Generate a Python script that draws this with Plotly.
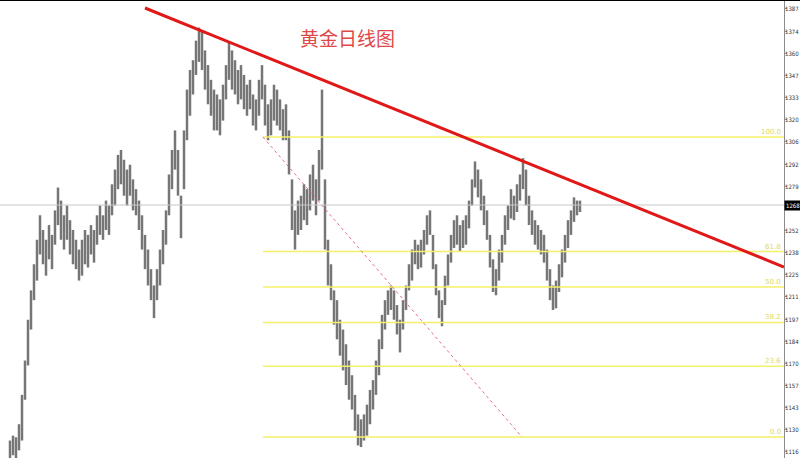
import plotly.graph_objects as go

# ---- data ----
highs = [1123, 1126, 1125, 1133, 1151, 1172, 1197, 1215, 1231, 1246,
         1261, 1252, 1246, 1255, 1249, 1264, 1278, 1270, 1261, 1267,
         1258, 1252, 1246, 1240, 1246, 1252, 1249, 1255, 1252, 1261,
         1267, 1261, 1270, 1267, 1280, 1289, 1298, 1301, 1295, 1289,
         1292, 1283, 1277, 1270, 1261, 1249, 1240, 1228, 1218, 1228,
         1240, 1252, 1264, 1286, 1301, 1313, 1301, 1273, 1313, 1338,
         1350, 1356, 1368, 1376, 1374, 1362, 1353, 1344, 1338, 1335,
         1332, 1341, 1353, 1367, 1362, 1356, 1350, 1353, 1347, 1341,
         1344, 1335, 1332, 1344, 1353, 1341, 1329, 1332, 1341, 1338,
         1332, 1326, 1329, 1313, 1283, 1264, 1270, 1273, 1280, 1277,
         1286, 1292, 1283, 1301, 1338, 1283, 1246, 1231, 1215, 1209,
         1197, 1191, 1182, 1172, 1163, 1151, 1139, 1136, 1139, 1145,
         1154, 1160, 1172, 1185, 1200, 1209, 1215, 1218, 1215, 1206,
         1197, 1209, 1218, 1231, 1240, 1246, 1243, 1246, 1252, 1261,
         1264, 1249, 1231, 1215, 1209, 1224, 1237, 1249, 1258, 1261,
         1255, 1258, 1261, 1270, 1283, 1294, 1289, 1283, 1273, 1264,
         1249, 1234, 1228, 1240, 1249, 1261, 1267, 1277, 1273, 1280,
         1286, 1296, 1289, 1273, 1264, 1258, 1255, 1252, 1249, 1240,
         1228, 1218, 1221, 1231, 1240, 1249, 1258, 1264, 1272, 1270,
         1270]
lows = [1112, 1114, 1112, 1117, 1123, 1148, 1169, 1191, 1209, 1221,
        1237, 1231, 1224, 1234, 1228, 1243, 1255, 1246, 1240, 1246,
        1237, 1231, 1228, 1221, 1224, 1231, 1229, 1237, 1232, 1243,
        1249, 1246, 1252, 1249, 1261, 1267, 1277, 1280, 1273, 1267,
        1273, 1264, 1261, 1252, 1240, 1228, 1218, 1209, 1198, 1209,
        1218, 1231, 1243, 1261, 1277, 1289, 1273, 1247, 1277, 1307,
        1322, 1335, 1347, 1355, 1350, 1338, 1329, 1322, 1313, 1313,
        1310, 1319, 1332, 1344, 1338, 1335, 1329, 1332, 1326, 1322,
        1326, 1316, 1313, 1322, 1332, 1316, 1307, 1310, 1319, 1316,
        1313, 1307, 1307, 1286, 1252, 1240, 1249, 1252, 1258, 1255,
        1264, 1270, 1261, 1270, 1289, 1240, 1218, 1209, 1194, 1185,
        1175, 1166, 1157, 1148, 1142, 1129, 1120, 1119, 1123, 1126,
        1133, 1142, 1151, 1163, 1179, 1191, 1200, 1203, 1197, 1188,
        1177, 1191, 1203, 1215, 1221, 1231, 1228, 1229, 1237, 1243,
        1249, 1228, 1212, 1198, 1193, 1206, 1218, 1232, 1241, 1243,
        1239, 1241, 1243, 1253, 1267, 1278, 1272, 1264, 1255, 1246,
        1229, 1214, 1212, 1221, 1232, 1243, 1252, 1259, 1258, 1263,
        1270, 1277, 1267, 1255, 1249, 1243, 1240, 1237, 1232, 1221,
        1209, 1203, 1204, 1214, 1223, 1232, 1241, 1249, 1257, 1261,
        1263]

current_price = 1267.3
current_label = "1268"

trend_x = [45, 258]
trend_y = [1388.0, 1229.3]

fib_start_x = 84.3
fib_low = 1125.1
fib_high = 1309.0
fib_levels = [100.0, 61.8, 50.0, 38.2, 23.6, 0.0]
fib_labels = ["100.0", "61.8", "50.0", "38.2", "23.6", "0.0"]
fib_diag_x = [84.3, 170.7]
fib_diag_y = [1309.0, 1125.1]

tick_vals = [1387.4, 1373.8, 1360.3, 1346.7, 1333.1, 1319.6, 1306.0, 1292.4,
             1278.9, 1251.7, 1238.1, 1224.6, 1211.0, 1197.4, 1183.9, 1170.3,
             1156.7, 1143.2, 1129.6, 1116.0]
tick_text = ["1387", "1374", "1360", "1347", "1333", "1320", "1306", "1292",
             "1279", "1252", "1238", "1225", "1211", "1197", "1184", "1170",
             "1157", "1143", "1130", "1116"]

title_text = "黄金日线图"

X_MIN, X_MAX = -3.333, 258
Y_MIN, Y_MAX = 1112.3, 1392.9
PLOT_W = 784
FIG_W, FIG_H = 800, 458

# ---- figure ----
fig = go.Figure()

# price bars as high-low segments
bx, by = [], []
for i, (h, l) in enumerate(zip(highs, lows)):
    bx += [i, i, None]
    by += [l, h, None]
fig.add_trace(go.Scatter(x=bx, y=by, mode="lines",
                         line=dict(color="#767676", width=2.5),
                         hoverinfo="skip", showlegend=False))

# current price gray line
fig.add_trace(go.Scatter(x=[X_MIN, X_MAX], y=[current_price, current_price],
                         mode="lines", line=dict(color="#c8c8c8", width=1),
                         showlegend=False, hoverinfo="skip"))

# fibonacci levels
for lv, lab in zip(fib_levels, fib_labels):
    p = fib_low + (fib_high - fib_low) * lv / 100.0
    fig.add_trace(go.Scatter(x=[fib_start_x, X_MAX], y=[p, p], mode="lines",
                             line=dict(color="#f4f06a", width=1.5),
                             showlegend=False, hoverinfo="skip"))
    fig.add_annotation(x=X_MAX, y=p, xref="x", yref="y", text=lab,
                       showarrow=False, xanchor="right", yanchor="bottom",
                       xshift=-1, yshift=-1,
                       font=dict(size=7, color="#e0d860", family="DejaVu Sans"))

# fib diagonal (dotted)
fig.add_trace(go.Scatter(x=fib_diag_x, y=fib_diag_y, mode="lines",
                         line=dict(color="#e8707e", width=1, dash="dot"),
                         showlegend=False, hoverinfo="skip"))

# trend line
fig.add_trace(go.Scatter(x=trend_x, y=trend_y, mode="lines",
                         line=dict(color="#e01818", width=3),
                         showlegend=False, hoverinfo="skip"))

# title
fig.add_annotation(x=347 / PLOT_W, y=1 - 22 / FIG_H, xref="paper", yref="paper",
                   text=title_text, showarrow=False,
                   font=dict(size=19, color="#e04848", family="Noto Sans CJK SC"))

# right-axis price labels (annotations so they fit inside the canvas)
x_right = FIG_W / PLOT_W
for v, t in zip(tick_vals, tick_text):
    fig.add_annotation(x=x_right, y=v, xref="paper", yref="y", text=t,
                       showarrow=False, xanchor="right", yanchor="middle",
                       borderpad=0, xshift=0,
                       font=dict(size=6, color="#333333",
                                 family="DejaVu Sans Condensed, DejaVu Sans"))

# current price label
fig.add_annotation(x=1, y=current_price, xref="paper", yref="y",
                   text=current_label, showarrow=False, xanchor="left",
                   yanchor="middle", bgcolor="#000000", borderpad=1,
                   font=dict(size=6, color="#ffffff",
                             family="DejaVu Sans Condensed, DejaVu Sans"))

fig.update_layout(
    width=FIG_W, height=FIG_H,
    margin=dict(l=0, r=FIG_W - PLOT_W, t=0, b=0),
    paper_bgcolor="#ffffff", plot_bgcolor="#ffffff",
    xaxis=dict(range=[X_MIN, X_MAX], visible=False, fixedrange=True),
    yaxis=dict(range=[Y_MIN, Y_MAX], side="right", showgrid=False,
               zeroline=False, showline=True, linecolor="#8c8c8c",
               linewidth=1, ticks="outside", ticklen=2, tickcolor="#8c8c8c",
               tickvals=tick_vals, showticklabels=False, automargin=False,
               fixedrange=True),
    shapes=[dict(type="line", xref="paper", yref="paper", x0=0, x1=x_right,
                 y0=1, y1=1, line=dict(color="#000000", width=2))],
)

fig.write_html("out.html", config={"displayModeBar": False},
               post_script="document.body.style.margin='0';document.body.style.overflow='hidden';")
